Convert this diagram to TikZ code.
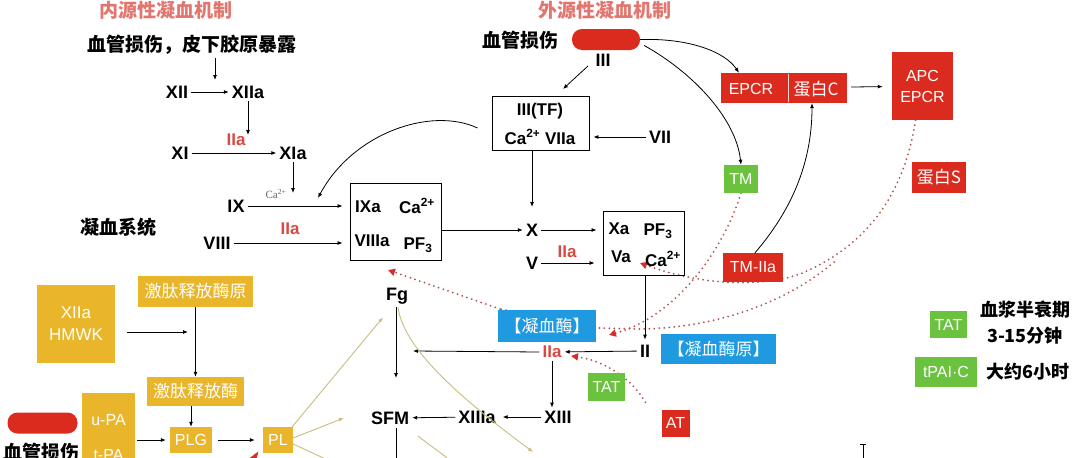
\documentclass[tikz,border=0pt]{standalone}
\usepackage{fontspec}
\setmainfont{Liberation Sans}
\newfontfamily\cjk{Noto Sans CJK SC}
\newfontfamily\serifrm{Liberation Serif}
\usetikzlibrary{arrows.meta}
\pgfdeclarelayer{bg}
\pgfsetlayers{bg,main}
\definecolor{ptitle}{HTML}{E2766E}
\definecolor{tred}{HTML}{DA4A44}
\definecolor{pred}{HTML}{DB2B1F}
\definecolor{pgreen}{HTML}{6BC23F}
\definecolor{pblue}{HTML}{1F9AE0}
\definecolor{pgold}{HTML}{E9B52B}
\definecolor{pline}{HTML}{C9BE80}
\definecolor{pdot}{HTML}{B0524C}
\definecolor{tipred}{HTML}{D0302A}
\begin{document}
\begin{tikzpicture}[x=1pt,y=-1pt,
  every node/.style={inner sep=3pt},
  lb/.style={font=\bfseries\fontsize{18}{20}\selectfont},
  rl/.style={font=\bfseries\fontsize{17}{19}\selectfont, text=tred},
  cn/.style={font=\cjk\bfseries\fontsize{19}{21}\selectfont},
  bx/.style={draw, line width=0.9pt, inner sep=0pt},
  bt/.style={font=\bfseries\fontsize{17}{19}\selectfont, inner sep=0pt},
  fbox/.style={inner sep=0pt, text=white, font=\fontsize{16}{18}\selectfont},
  fcn/.style={inner sep=0pt, text=white, font=\cjk\fontsize{17}{19}\selectfont},
  redbox/.style={fill=pred},
  greenbox/.style={fill=pgreen},
  bluebox/.style={fill=pblue},
  goldbox/.style={fill=pgold},
  pill/.style={fill=pred, rounded corners=10pt, inner sep=0pt},
  ar/.style={-{Latex[length=5pt,width=4pt]}, line width=0.8pt},
  oar/.style={-{Latex[length=5pt,width=4pt]}, line width=0.9pt, draw=pline},
  dotln/.style={draw=pdot, line width=2pt, line cap=round, dash pattern=on 0pt off 5pt},
  rtip/.style={-{Triangle[length=7pt,width=7pt,color=tipred]}}
]
\useasboundingbox (0,0) rectangle (1080,458);
\clip (0,0) rectangle (1080,458);

% ---------- titles ----------
\node[cn, text=ptitle] (t1) at (166,10) {内源性凝血机制};
\node[cn, text=ptitle] (t2) at (605,10) {外源性凝血机制};

% ---------- intrinsic ----------
\node[cn] (inj1) at (192,45) {血管损伤，皮下胶原暴露};
\node[lb] (xii) at (177,92) {XII};
\node[lb] (xiia) at (248,92) {XIIa};
\coordinate (c0) at (215,80);
\draw[ar] (inj1.south -| c0) -- (c0);
\draw[ar] (xii) -- (xiia);
\coordinate (c1) at (248,135);
\draw[ar] (xiia) -- (c1);
\node[rl] (iia1) at (236,140) {IIa};
\node[lb] (xi) at (180,153) {XI};
\node[lb] (xia) at (293,153) {XIa};
\draw[ar] (xi) -- (xia);
\coordinate (c2) at (293,193);
\draw[ar] (xia) -- (c2);
\node[font=\serifrm\fontsize{11}{12}\selectfont, text=black!60, inner sep=0pt] (ca1) at (276,194) {Ca\textsuperscript{2+}};
\node[lb] (ix) at (236,206) {IX};
\node[rl] (iia2) at (290,229) {IIa};
\node[lb] (viii) at (217,243) {VIII};
\node[cn] (sys) at (118,227) {凝血系统};

% box 1
\node[bx, minimum width=91pt, minimum height=77pt] (b1) at (395.5,221.5) {};
\node[bt] (b1a) at (368,207) {IXa};
\node[bt] (b1b) at (417,206) {Ca\textsuperscript{2+}};
\node[bt] (b1c) at (372,241) {VIIIa};
\node[bt] (b1d) at (418,245) {PF\textsubscript{3}};
\draw[ar, shorten >=7pt] (ix) -- (ix -| b1.west);
\draw[ar, shorten >=7pt] (viii) -- (viii -| b1.west);

% ---------- extrinsic ----------
\node[cn] (inj2) at (520,40) {血管损伤};
\node[pill, minimum width=68pt, minimum height=21pt] (pill1) at (606,39.5) {};
\node[lb] (iii) at (603,60) {III};
\node[bx, minimum width=97pt, minimum height=54pt] (tf) at (540.5,123) {};
\node[bt] (tfa) at (540,111) {III(TF)};
\node[bt] (tfb) at (540,137) {Ca\textsuperscript{2+} VIIa};
\coordinate (c3) at (563,89);
\draw[ar] (588,66) -- (c3);
\node[lb] (vii) at (660,137) {VII};
\draw[ar, shorten >=4pt] (vii) -- (vii -| tf.east);
\draw[ar] ([xshift=-14pt,yshift=-5pt]tf.west) .. controls (430,106) and (352,134) .. (318,198);

\node[lb] (X) at (532,230) {X};
\node[lb] (V) at (532,263) {V};
\coordinate (c4) at (532,207);
\draw[ar] (tf.south -| c4) -- (c4);
\draw[ar, shorten <=1pt] (b1.east |- X) -- (X);
\node[rl] (iia3) at (567,252) {IIa};

% box 2
\node[bx, minimum width=81pt, minimum height=64pt] (b2) at (643.5,243) {};
\node[bt] (b2a) at (619,229) {Xa};
\node[bt] (b2b) at (658,231) {PF\textsubscript{3}};
\node[bt] (b2c) at (621,257) {Va};
\node[bt] (b2d) at (663,259) {Ca\textsuperscript{2+}};
\draw[ar, shorten >=6pt] (X) -- (X -| b2.west);
\draw[ar, shorten >=8pt] (V) -- (V -| b2.west);

% thrombin region
\node[lb] (II) at (645,351) {II};
\draw[ar, shorten >=2pt] (b2.south -| II) -- (II.north);
\node[rl] (iia4) at (552,352) {IIa};
\draw[ar] (II) -- (iia4);
\node[bluebox, minimum width=98pt, minimum height=32pt, inner sep=0pt] (thr) at (547,326) {};
\node[fcn] (thrt) at (547,326) {【凝血酶】};
\node[bluebox, minimum width=115pt, minimum height=30pt, inner sep=0pt] (pro) at (718.5,349) {};
\node[fcn] (prot) at (718.5,349) {【凝血酶原】};
\node[greenbox, fbox, minimum width=37pt, minimum height=28pt] (tat1) at (606.5,387) {TAT};
\node[redbox, fbox, minimum width=28pt, minimum height=27pt] (at) at (675.5,423) {AT};

\node[lb] (fg) at (397,296) {Fg};
\coordinate (c5) at (413,351);
\draw[ar] (iia4.west) -- (c5);
\coordinate (c6) at (396,378);
\draw[ar] (fg.south -| c6) -- (c6);
\node[lb] (sfm) at (390,418) {SFM};
\node[lb] (xiiia) at (477,417) {XIIIa};
\node[lb] (xiii) at (558,417) {XIII};
\draw[ar] (iia4) -- (iia4 |- xiii.north);
\draw[ar, shorten >=4pt] (xiii) -- (xiiia);
\draw[ar] (xiiia) -- (sfm);
\coordinate (c7) at (396,460);
\draw[line width=0.8pt] (sfm.south -| c7) -- (c7);

% ---------- right side ----------
\node[redbox, minimum width=126pt, minimum height=30pt, inner sep=0pt] (epcr) at (784,88) {};
\draw[white!80!pred, line width=0.6pt] (788,74) -- (788,102);
\node[fbox] (epcrt) at (751,89) {EPCR};
\node[fcn] (pc) at (816,89) {蛋白C};
\node[redbox, fbox, minimum width=61pt, minimum height=68pt, align=center] (apc) at (922.5,86) {APC\\[3pt]EPCR};
\draw[ar, shorten <=4pt, shorten >=9pt] (epcr) -- (apc);
\node[greenbox, fbox, minimum width=34pt, minimum height=28pt] (tm) at (741,179) {TM};
\node[redbox, fbox, minimum width=60pt, minimum height=29pt] (tmiia) at (753,267.5) {TM-IIa};
\node[redbox, minimum width=54pt, minimum height=31pt, inner sep=0pt] (ps) at (939,177.5) {};
\node[fcn] (pst) at (939,177.5) {蛋白S};

\draw[ar] (pill1.east) .. controls (690,38) and (725,52) .. ([xshift=-45pt]epcr.north);
\draw[ar] ([xshift=4pt,yshift=-6pt]pill1.east) .. controls (692,72) and (736,118) .. (tm.north);
\draw[ar] ([xshift=2pt]tmiia.north) .. controls (790,212) and (812,165) .. ([xshift=28pt]epcr.south);

% dotted inhibition lines (behind the boxes)
\begin{pgfonlayer}{bg}
\fill[white] (0,0) rectangle (1080,458);
\coordinate (br) at (834,262);
\draw[dotln, rtip] ([xshift=-7pt]apc.south) .. controls (905,190) and (870,245) .. (800,274) .. controls (760,288) and (700,285) .. (640,263);
\draw[dotln] (br) .. controls (790,300) and (720,328) .. (640,329) -- (598,328) -- (500,309);
\draw[dotln, rtip] (500,309) -- (388,270);
\draw[dotln, rtip] (tm.south) .. controls (725,245) and (680,315) .. (609,335);
\draw[dotln, rtip] (at.north west) ++(-16pt,7pt) .. controls (632,378) and (602,360) .. (571,356);
\end{pgfonlayer}
\draw[tipred, fill=tipred] (250,458) -- (258,452) -- (256,460) -- cycle;

% ---------- legend ----------
\node[greenbox, fbox, minimum width=37pt, minimum height=27pt] (tat2) at (948.5,324.5) {TAT};
\node[cn, font=\cjk\bfseries\fontsize{18}{26}\selectfont, align=center] (hl) at (1025,323) {血浆半衰期\\3-15分钟};
\node[greenbox, fbox, minimum width=62pt, minimum height=30pt] (tpai) at (946,372) {tPAI·C};
\node[cn, font=\cjk\bfseries\fontsize{18}{20}\selectfont] (t6) at (1028,372) {大约6小时};
\draw[line width=0.9pt] (863,444) -- (863,458) (860,444) -- (866,444);

% ---------- fibrinolysis (bottom left) ----------
\node[goldbox, fbox, minimum width=78pt, minimum height=78pt, align=center, font=\fontsize{17}{22}\selectfont] (hmwk) at (76,324) {XIIa\\HMWK};
\node[goldbox, minimum width=115pt, minimum height=31pt, inner sep=0pt] (kp) at (195.5,291.5) {};
\node[fcn] (kpt) at (195.5,291.5) {激肽释放酶原};
\node[goldbox, minimum width=97pt, minimum height=29pt, inner sep=0pt] (kk) at (195.5,391.5) {};
\node[fcn] (kkt) at (195.5,391.5) {激肽释放酶};
\node[goldbox, fbox, minimum width=42pt, minimum height=26pt] (plg) at (191,440) {PLG};
\node[goldbox, fbox, minimum width=30pt, minimum height=26pt] (pl) at (278,440) {PL};
\node[goldbox, minimum width=53pt, minimum height=80pt, inner sep=0pt] (upa) at (108.5,433) {};
\node[fbox] (upat) at (108.5,420) {u-PA};
\node[fbox] (tpat) at (108.5,455) {t-PA};
\node[pill, minimum width=70pt, minimum height=21pt] (pill2) at (42.5,423) {};
\node[cn] (inj3) at (42,452) {血管损伤};

\coordinate (c8) at (188,332);
\draw[ar, shorten <=12pt] (hmwk.east |- c8) -- (c8);
\draw[ar] (kp.south) -- (kk.north -| kp.south);
\draw[ar] (kk.south -| plg) -- (plg.north);
\draw[ar, shorten <=2pt, shorten >=4pt] (upa.east |- plg) -- (plg.west);
\draw[ar, shorten <=6pt, shorten >=8pt] (plg) -- (pl);

% olive lines
\draw[oar] ([xshift=-1pt]pl.north east) -- ([xshift=-14pt,yshift=-10pt]fg.south);
\draw[oar] ([yshift=2pt]pl.east) -- ([xshift=-24pt]sfm.west |- 0,418);
\draw[draw=pline, line width=0.9pt] ([yshift=-4pt]pl.east) -- (332,462);
\draw[oar] ([xshift=1pt]fg.south) .. controls (404,352) and (470,405) .. (533,452);
\draw[draw=pline, line width=0.9pt] (418,436) .. controls (428,444) and (440,452) .. (452,462);
\end{tikzpicture}
\end{document}
